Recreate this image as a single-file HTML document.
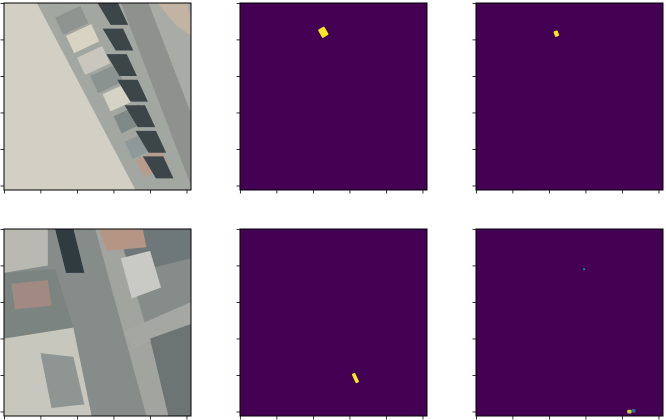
<!DOCTYPE html>
<html><head><meta charset="utf-8"><style>
html,body{margin:0;padding:0;background:#fff;}
svg{display:block;font-family:"Liberation Sans",sans-serif;}
</style></head><body>
<svg id="fig" width="666" height="420" viewBox="0 0 666 420">
<g id="panels"></g>
</svg>
<script>
// panel grid
const colLefts=[4,240,476];
const rowTops=[3,229];
const imgSize=256;
const tickVals=[0,50,100,150,200,250];
// mask blobs in image pixel coordinates: [cx, cy, w, h, angle, value]
const blobsTopMid=[[114,40,10,13,-30,1]];
const blobsTopRight=[[110,42,6,8,-20,1]];
const blobsBotMid=[[158,204,5,14,-25,1]];
const blobsBotRight=[[148,55,3,3,0,0.5],[210,250,6,5,0,0.9],[216,249,5,5,0,0.35]];
const panelSize=187;
const sc=panelSize/imgSize;
const NS="http://www.w3.org/2000/svg";
const root=document.getElementById('panels');
function mk(t,a,p){const e=document.createElementNS(NS,t);for(const k in a)e.setAttribute(k,a[k]);(p||root).appendChild(e);return e;}
function viridis(v){const s=[[68,1,84],[59,82,139],[33,145,140],[94,201,98],[253,231,37]];const f=v*4,i=Math.min(3,Math.floor(f)),t=f-i;const c=s[i].map((x,j)=>Math.round(x+(s[i+1][j]-x)*t));return `rgb(${c})`;}
function axes(r,c,name){
  const g=mk('g',{transform:`translate(${colLefts[c]},${rowTops[r]}) scale(${sc})`});
  
  
  return g;
}
function frame(r,c){
  const x=colLefts[c],y=rowTops[r];
  const f=mk('rect',{x:x,y:y,width:panelSize,height:panelSize,fill:'none',stroke:'#000','stroke-width':1});
  
  
  tickVals.forEach(v=>{
    const p=v*sc+0.5*sc;
    const tx=mk('line',{x1:x+p,x2:x+p,y1:y+panelSize,y2:y+panelSize+3.5,stroke:'#000','stroke-width':0.8});
    
    
    const ty=mk('line',{x1:x-3.5,x2:x,y1:y+p,y2:y+p,stroke:'#000','stroke-width':0.8});
    
    
  });
}
function mask(r,c,blobs,name){
  const g=axes(r,c,name);
  mk('rect',{x:0,y:0,width:256,height:256,fill:viridis(0)},g);
  blobs.forEach(b=>{
    const e=mk('rect',{x:b[0]-b[2]/2,y:b[1]-b[3]/2,width:b[2],height:b[3],rx:1.5,fill:viridis(b[5]),transform:`rotate(${b[4]} ${b[0]} ${b[1]})`},g);
    
    
  });
  frame(r,c);
}
// aerial image 1
(function(){
  const g=axes(0,0,'aerial-image-1');
  mk('rect',{x:0,y:0,width:256,height:256,fill:'#d2d0c5'},g);
  mk('polygon',{points:'45,0 160,0 256,230 256,256 180,256',fill:'#a3a7a2'},g);
  [[70,20,'#8f9491'],[85,45,'#d9d3c3'],[100,75,'#c8c6bd'],[118,100,'#8a9390'],[135,125,'#d5d2c6'],[150,155,'#7f8a88'],[165,190,'#90999a'],[180,215,'#b89c8e']].forEach(p=>{
    mk('rect',{x:p[0],y:p[1],width:38,height:26,fill:p[2],transform:`rotate(-25 ${p[0]} ${p[1]})`},g);
  });
  [[128,0],[135,35],[140,70],[155,105],[165,140],[180,175],[190,210]].forEach(p=>{
    mk('polygon',{points:`${p[0]},${p[1]} ${p[0]+28},${p[1]} ${p[0]+42},${p[1]+30} ${p[0]+18},${p[1]+30}`,fill:'#3c4648'},g);
  });
  mk('polygon',{points:'160,0 198,0 256,150 256,250',fill:'#8e918e'},g);
  mk('polygon',{points:'198,0 256,0 256,150',fill:'#a9aba6'},g);
  mk('polygon',{points:'210,0 250,0 256,20 256,45 235,30',fill:'#c2b3a3'},g);
  frame(0,0);
})();
// aerial image 2
(function(){
  const g=axes(1,0,'aerial-image-2');
  mk('rect',{x:0,y:0,width:256,height:256,fill:'#858c8a'},g);
  mk('polygon',{points:'0,0 60,0 60,50 0,60',fill:'#b9b9b2'},g);
  mk('polygon',{points:'0,60 70,55 95,135 0,150',fill:'#7c8482'},g);
  mk('polygon',{points:'10,75 60,70 65,105 15,110',fill:'#a08a82'},g);
  mk('polygon',{points:'0,150 95,135 120,256 0,256',fill:'#c8c7bd'},g);
  mk('polygon',{points:'50,170 95,175 110,240 65,245',fill:'#8e9592'},g);
  mk('polygon',{points:'70,0 95,0 110,60 85,60',fill:'#303b40'},g);
  mk('polygon',{points:'125,0 155,0 230,256 195,256',fill:'#a2a4a0'},g);
  mk('polygon',{points:'155,0 256,0 256,40 175,60',fill:'#6f7878'},g);
  mk('polygon',{points:'130,0 190,0 195,25 140,30',fill:'#b59685'},g);
  mk('polygon',{points:'160,40 200,30 215,80 175,95',fill:'#c9c9c5'},g);
  mk('polygon',{points:'165,140 256,100 256,130 175,165',fill:'#a5a7a3'},g);
  mk('polygon',{points:'200,150 256,130 256,256 225,256',fill:'#6c7474'},g);
  frame(1,0);
})();
mask(0,1,blobsTopMid,'predicted-mask-1');
mask(0,2,blobsTopRight,'ground-truth-mask-1');
mask(1,1,blobsBotMid,'predicted-mask-2');
mask(1,2,blobsBotRight,'ground-truth-mask-2');
</script>
</body></html>
